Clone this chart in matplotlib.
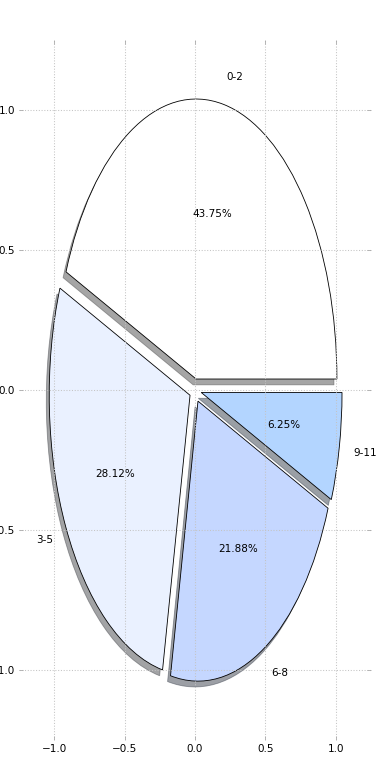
import matplotlib
matplotlib.use("Agg")
import matplotlib.pyplot as plt

labels = ["0-2", "3-5", "6-8", "9-11"]
counts = [14, 9, 7, 2]
colors = ["#ffffff", "#eaf1ff", "#c5d7ff", "#b3d5ff"]
explode = [0.04, 0.04, 0.045, 0.045]
ticks = [-1.0, -0.5, 0.0, 0.5, 1.0]

plt.rcParams["font.size"] = 10

fig = plt.figure(figsize=(5.2, 10.4), dpi=75)
ax = fig.add_axes([19 / 390, 40 / 780, 352 / 390, 700 / 780])

ax.pie(counts, labels=labels, colors=colors, explode=explode,
       autopct="%.2f%%", shadow=True, startangle=0,
       wedgeprops={"edgecolor": "black", "linewidth": 0.8},
       frame=True)

ax.set_aspect("auto")
ax.set_xlim(-1.25, 1.25)
ax.set_ylim(-1.25, 1.25)
ax.set_xticks(ticks)
ax.set_yticks(ticks)
ax.set_xticklabels([f"{t:.1f}".replace("-", "\u2212") for t in ticks])
ax.set_yticklabels([f"{t:.1f}".replace("-", "\u2212") for t in ticks])
for s in ax.spines.values():
    s.set_visible(False)
ax.grid(True, linestyle=":", color="#c4c4c4", linewidth=1.0)
ax.set_axisbelow(False)
ax.tick_params(direction="in", length=4, color="#aaaaaa",
               top=True, right=True, pad=4)

fig.savefig("out.png", dpi=75)
